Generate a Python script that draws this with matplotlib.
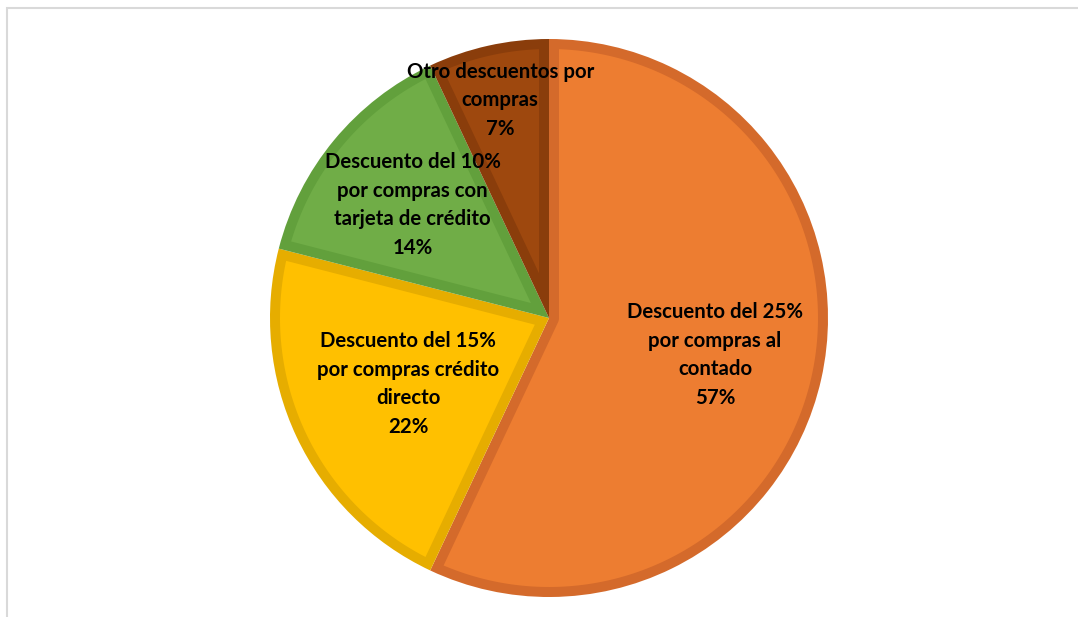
import numpy as np
import matplotlib.pyplot as plt
from matplotlib.patches import Rectangle, Polygon

labels = ['Descuento del 25%\npor compras al\ncontado',
          'Descuento del 15%\npor compras crédito\ndirecto',
          'Descuento del 10%\npor compras con\ntarjeta de crédito',
          'Otro descuentos por\ncompras']
values = [57, 22, 14, 7]
colors = ['#ED7D31', '#FFC000', '#70AD47', '#9E480E']
edge_colors = ['#D46A2B', '#E6AD00', '#62A03C', '#8A3D0B']
label_dist = [0.61, 0.557, 0.635, 0.80]

W, H = 1078, 617
fig = plt.figure(figsize=(W / 100, H / 100), dpi=100)

# thin grey chart frame (only top and left visible)
fig.patches.append(Rectangle((7 / W, -0.05), 1.2, 1 - 8 / H + 0.05,
                             transform=fig.transFigure, fill=False,
                             edgecolor='#D9D9D9', linewidth=1.5))

cx, cy, r = 549, 318, 279
ax = fig.add_axes([(cx - r) / W, (H - cy - r) / H, 2 * r / W, 2 * r / H])

# dark base wedges, the lighter face is drawn inset on top
wedges, _ = ax.pie(values, colors=edge_colors, startangle=90,
                   counterclock=False, radius=1.0)


def inset_wedge(t1, t2, R, d, n=200):
    # region of the wedge t1..t2 (deg, ccw) lying at least d inside its border
    t1, t2 = np.deg2rad(t1), np.deg2rad(t2)
    span = t2 - t1
    s = np.sqrt((R - d) ** 2 - d ** 2)
    a = np.arctan2(d, s)
    arc = np.linspace(t1 + a, t2 - a, n)
    pts = [((R - d) * np.cos(t), (R - d) * np.sin(t)) for t in arc]
    if span < np.pi:
        k = d / np.sin(span / 2)
        mid = (t1 + t2) / 2
        pts.append((k * np.cos(mid), k * np.sin(mid)))
    else:
        small = np.linspace(t2 - np.pi / 2, t1 + np.pi / 2, 60)
        pts += [(d * np.cos(t), d * np.sin(t)) for t in small]
    return np.array(pts)


band = 10 / r
for w, c in zip(wedges, colors):
    poly = inset_wedge(w.theta1, w.theta2, 1.0, band)
    ax.add_patch(Polygon(poly, closed=True, facecolor=c, edgecolor='none'))

ax.set_xlim(-1, 1)
ax.set_ylim(-1, 1)
ax.axis('off')

for w, lab, v, d in zip(wedges, labels, values, label_dist):
    ang = np.deg2rad((w.theta1 + w.theta2) / 2)
    ax.text(d * np.cos(ang), d * np.sin(ang), f'{lab}\n{v}%',
            ha='center', va='center', fontsize=14.7, fontweight='bold',
            family='Lato', linespacing=1.53, color='black')

fig.savefig('out.png', dpi=100)
